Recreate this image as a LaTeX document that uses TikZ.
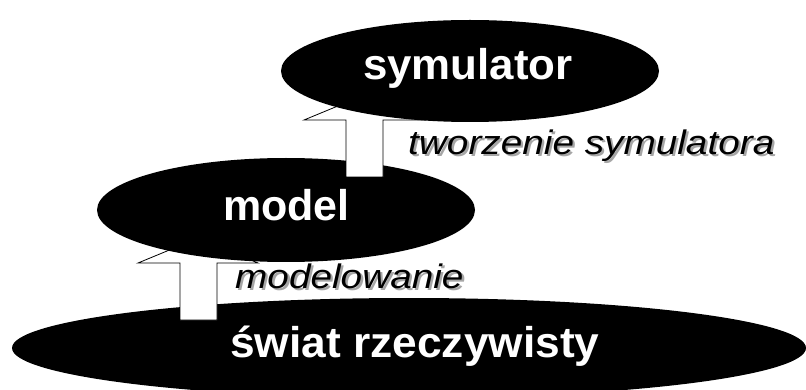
\documentclass[tikz,border=0pt]{standalone}
\usepackage{fontspec}
\usepackage{graphicx}
\setmainfont{Liberation Sans}
\usetikzlibrary{shapes.geometric}
\newcommand{\shadowed}[1]{\makebox[0pt][l]{\hspace{2pt}\raisebox{-2pt}{\color{black!35}#1}}#1}
\tikzset{
  blob/.style={ellipse, fill=black, inner sep=0pt, outer sep=0pt},
  bigtxt/.style={text=white, font=\bfseries\fontsize{43}{50}\selectfont, inner sep=0pt, anchor=base west},
  lbl/.style={font=\itshape\fontsize{34}{40}\selectfont, inner sep=0pt, anchor=base west, text height=24pt, text depth=9pt, fill=white},
  blockarrow/.style={fill=white, draw=black, line width=0.8pt, line join=miter},
}
\begin{document}
\begin{tikzpicture}[x=1pt,y=-1pt]
\useasboundingbox (0,0) rectangle (806,390);
\clip (0,0) rectangle (806,390);
% bottom ellipse
\node[blob, minimum width=794pt, minimum height=100pt] (world) at (409,348) {};
% lower block arrow
\draw[blockarrow] (180,320) -- (180,263) -- (138,263) -- (198.5,238) -- (258,263) -- (217,263) -- (217,320) -- cycle;
% model ellipse
\node[blob, minimum width=378pt, minimum height=104pt] (model) at (286,210) {};
% upper block arrow
\draw[blockarrow] (346,177) -- (346,120) -- (304,120) -- (364.5,95) -- (424,120) -- (383,120) -- (383,177) -- cycle;
% symulator ellipse
\node[blob, minimum width=378pt, minimum height=102pt] (sym) at (470,71) {};
% white texts
\node[bigtxt] (tsym) at (363,80) {\scalebox{1.02}[1]{symulator}};
\node[bigtxt] (tmodel) at (223,221) {\scalebox{1.0}[1]{model}};
\node[bigtxt] (tworld) at (230,357) {\scalebox{1.03}[1]{świat rzeczywisty}};
% italic labels with shadow
\node[lbl] (l1) at (408,155) {\scalebox{1.14}[1]{\shadowed{tworzenie symulatora}}};
\node[lbl] (l2) at (235,288) {\scalebox{1.14}[1]{\shadowed{modelowanie}}};
\end{tikzpicture}
\end{document}
